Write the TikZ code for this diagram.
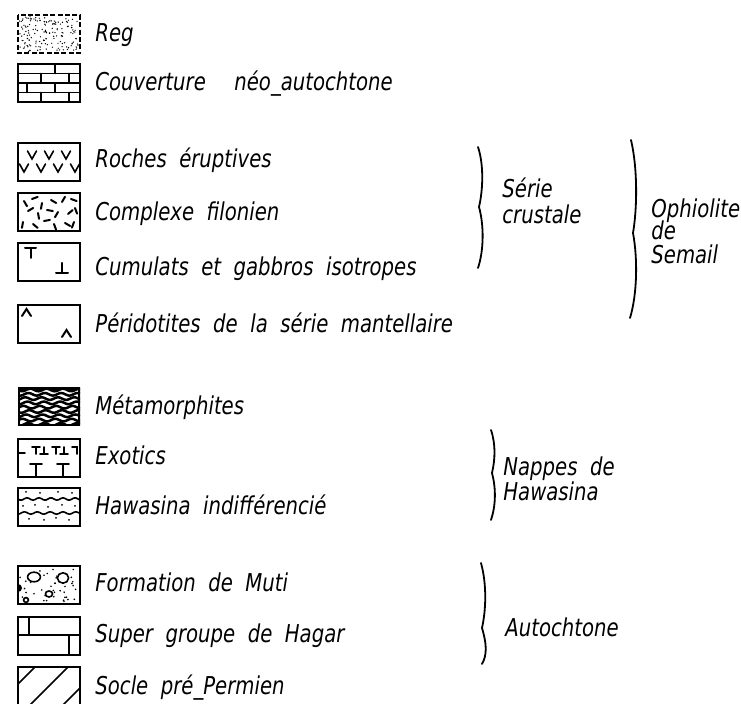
\documentclass[tikz,border=0pt]{standalone}
\usepackage{fontspec}
\newfontfamily\legfont{DejaVu Sans}[FakeStretch=0.8,WordSpace=2]
\usetikzlibrary{positioning}

\begin{document}
\begin{tikzpicture}[
  x=0.5pt, y=-0.5pt,
  box/.style={line width=0.9pt},
  motif/.style={line width=0.8pt, line cap=round},
  lab/.style={font=\legfont\itshape\fontsize{12.3}{14}\selectfont, anchor=base west, inner sep=0pt},
  accolade/.style={line width=0.9pt, line cap=round}
]
\useasboundingbox (0,0) rectangle (741,704);

% ===================== Reg =====================
\begin{scope}[shift={(18,15)}]
  \pgfmathsetseed{7}
  \foreach \i in {1,...,160} {\fill ({1.5+rnd*59},{1.5+rnd*35}) circle (0.35pt);}
  \draw[box, dash pattern=on 2.5pt off 1.2pt] (0,0) rectangle (62,38);
\end{scope}
\node[lab] (reg) at (95,42) {Reg};

% ===================== Couverture =====================
\begin{scope}[shift={(18,64)}]
  \draw[box] (0,0) rectangle (62,38);
  \foreach \y in {9.5,19,28.5} \draw[motif] (0,\y) -- (62,\y);
  \draw[motif] (37,0) -- (37,9.5);
  \draw[motif] (23,9.5) -- (23,19) (51,9.5) -- (51,19);
  \draw[motif] (9,19) -- (9,28.5) (37,19) -- (37,28.5);
  \draw[motif] (23,28.5) -- (23,38) (51,28.5) -- (51,38);
\end{scope}
\node[lab] (couv) at (95,91) {Couverture\hspace{8pt} néo\_autochtone};

% ===================== Roches eruptives =====================
\begin{scope}[shift={(18,143)}]
  \draw[box] (0,0) rectangle (62,38);
  \foreach \x in {14,31,48} \draw[motif] (\x-4.5,8) -- (\x,16) -- (\x+4.5,8);
  \foreach \x in {6,23,40,57} \draw[motif] (\x-4.5,21) -- (\x,29) -- (\x+4.5,21);
\end{scope}
\node[lab] (roches) at (95,168) {Roches éruptives};

% ===================== Complexe filonien =====================
\begin{scope}[shift={(18,193)}]
  \draw[box] (0,0) rectangle (62,38);
  \foreach \x/\y/\a in {6/8/60, 14/6/-20, 24/10/100, 33/7/30, 44/9/-60, 53/6/20,
                        10/18/-30, 20/20/80, 29/17/10, 40/19/120, 50/21/-40, 57/15/70,
                        5/29/100, 15/31/40, 26/28/-10, 36/31/70, 47/30/30, 56/29/110}
    \draw[motif, line width=1pt] (\x,\y) -- ++(\a:6);
\end{scope}
\node[lab] (complexe) at (95,221) {Complexe filonien};

% ===================== Cumulats =====================
\begin{scope}[shift={(18,243)}]
  \draw[box] (0,0) rectangle (62,38);
  \draw[motif, line width=1pt] (7,5) -- (18,5) (12.5,5) -- (12.5,15);
  \draw[motif, line width=1pt] (38,30) -- (50,30) (44,30) -- (44,20);
\end{scope}
\node[lab] (cumulats) at (95,276) {Cumulats et gabbros isotropes};

% ===================== Peridotites =====================
\begin{scope}[shift={(18,305)}]
  \draw[box] (0,0) rectangle (62,38);
  \draw[motif, line width=1pt] (4,11) -- (8.5,4) -- (13,11);
  \draw[motif, line width=1pt] (44,32) -- (48.5,25) -- (53,32);
\end{scope}
\node[lab] (perido) at (95,333) {Péridotites de la série mantellaire};

% ===================== Metamorphites =====================
\begin{scope}[shift={(18,388)}]
  \clip (0,0) rectangle (62,38);
  \foreach \k/\p in {0/0, 1/40, 2/110, 3/60, 4/150, 5/20, 6/90, 7/170, 8/50}
    \draw[line width=1.25pt] plot[domain=0:62, samples=40, smooth] (\x, {2+\k*4.3+1.3*sin(\x*22+\p)});
  \draw[box, line width=1.6pt] (0,0) rectangle (62,38);
\end{scope}
\node[lab] (meta) at (95,415) {Métamorphites};

% ===================== Exotics =====================
\begin{scope}[shift={(18,439)}]
  \draw[box] (0,0) rectangle (62,38);
  \draw[motif] (0,14) -- (7,14);
  \foreach \x in {18,38} {
    \draw[motif] (\x-4,8) -- (\x+4,8) (\x,8) -- (\x,15);
    \draw[motif] (\x+4,15) -- (\x+12,15) (\x+8,15) -- (\x+8,8);
  }
  \draw[motif] (54,8) -- (59,8) -- (59,15);
  \foreach \x in {18,45} \draw[motif] (\x-6,25) -- (\x+6,25) (\x,25) -- (\x,38);
\end{scope}
\node[lab] (exotics) at (95,465) {Exotics};

% ===================== Hawasina =====================
\begin{scope}[shift={(18,488)}]
  \draw[box] (0,0) rectangle (62,38);
  \draw[motif] plot[domain=0:62, samples=30, smooth] (\x, {11+1.2*sin(\x*30)});
  \draw[motif] plot[domain=0:62, samples=30, smooth] (\x, {25+1.2*sin(\x*28+90)});
  \foreach \x/\y in {8/4, 22/5, 40/4, 54/5, 5/18, 17/17, 30/19, 44/17, 57/18, 11/31, 26/32, 38/30, 51/32}
    \fill (\x,\y) circle (0.5pt);
\end{scope}
\node[lab] (hawasina) at (95,515) {Hawasina indifférencié};

% ===================== Muti =====================
\begin{scope}[shift={(18,566)}]
  \begin{scope}
    \clip (0,0) rectangle (62,38);
    \pgfmathsetseed{3}
    \foreach \i in {1,...,40} {\fill ({2+rnd*58},{2+rnd*34}) circle (0.45pt);}
    \fill (0,22) circle (2pt);
  \end{scope}
  \draw[motif, fill=white] (16,11) ellipse (3.2pt and 2.4pt);
  \draw[motif, fill=white] (45,12) ellipse (2.8pt and 2.6pt);
  \draw[motif, fill=white] (31,28) ellipse (1.8pt and 1.5pt);
  \draw[motif, fill=white] (8,34) circle (1.2pt);
  \draw[box, line width=1.1pt] (0,0) rectangle (62,38);
\end{scope}
\node[lab] (muti) at (95,592) {Formation de Muti};

% ===================== Hagar =====================
\begin{scope}[shift={(18,617)}]
  \draw[box] (0,0) rectangle (62,38);
  \draw[motif] (0,18) -- (62,18) (11,0) -- (11,18) (51,18) -- (51,38);
\end{scope}
\node[lab] (hagar) at (95,643) {Super groupe de Hagar};

% ===================== Socle =====================
\begin{scope}[shift={(18,667)}]
  \begin{scope}
    \clip (0,0) rectangle (62,38);
    \foreach \d in {17,50,83} \draw[motif] (\d-38,38) -- (\d,0);
  \end{scope}
  \draw[box] (0,0) rectangle (62,38);
\end{scope}
\node[lab] (socle) at (95,695) {Socle pré\_Permien};

% ===================== Braces and groups =====================
\draw[accolade] (478,147) .. controls (484,165) and (483,190) .. (479,207)
                          .. controls (484,225) and (484,250) .. (478,268);
\node[lab] (serie1) at (502,198) {Série};
\node[lab] (serie2) at (502,224) {crustale};

\draw[accolade] (631,140) .. controls (638,170) and (637,210) .. (633,233)
                          .. controls (638,260) and (637,295) .. (630,318);
\node[lab] (ophio1) at (651,218) {Ophiolite};
\node[lab] (ophio2) at (651,240) {de};
\node[lab] (ophio3) at (651,264) {Semail};

\draw[accolade] (491,430) .. controls (496,445) and (495,460) .. (492,473)
                          .. controls (496,488) and (496,505) .. (491,520);
\node[lab] (nappes1) at (503,476) {Nappes de};
\node[lab] (nappes2) at (503,501) {Hawasina};

\draw[accolade] (481,563) .. controls (487,585) and (486,610) .. (482,628)
                          .. controls (487,645) and (487,655) .. (482,664);
\node[lab] (autoch) at (505,637) {Autochtone};

\end{tikzpicture}
\end{document}
